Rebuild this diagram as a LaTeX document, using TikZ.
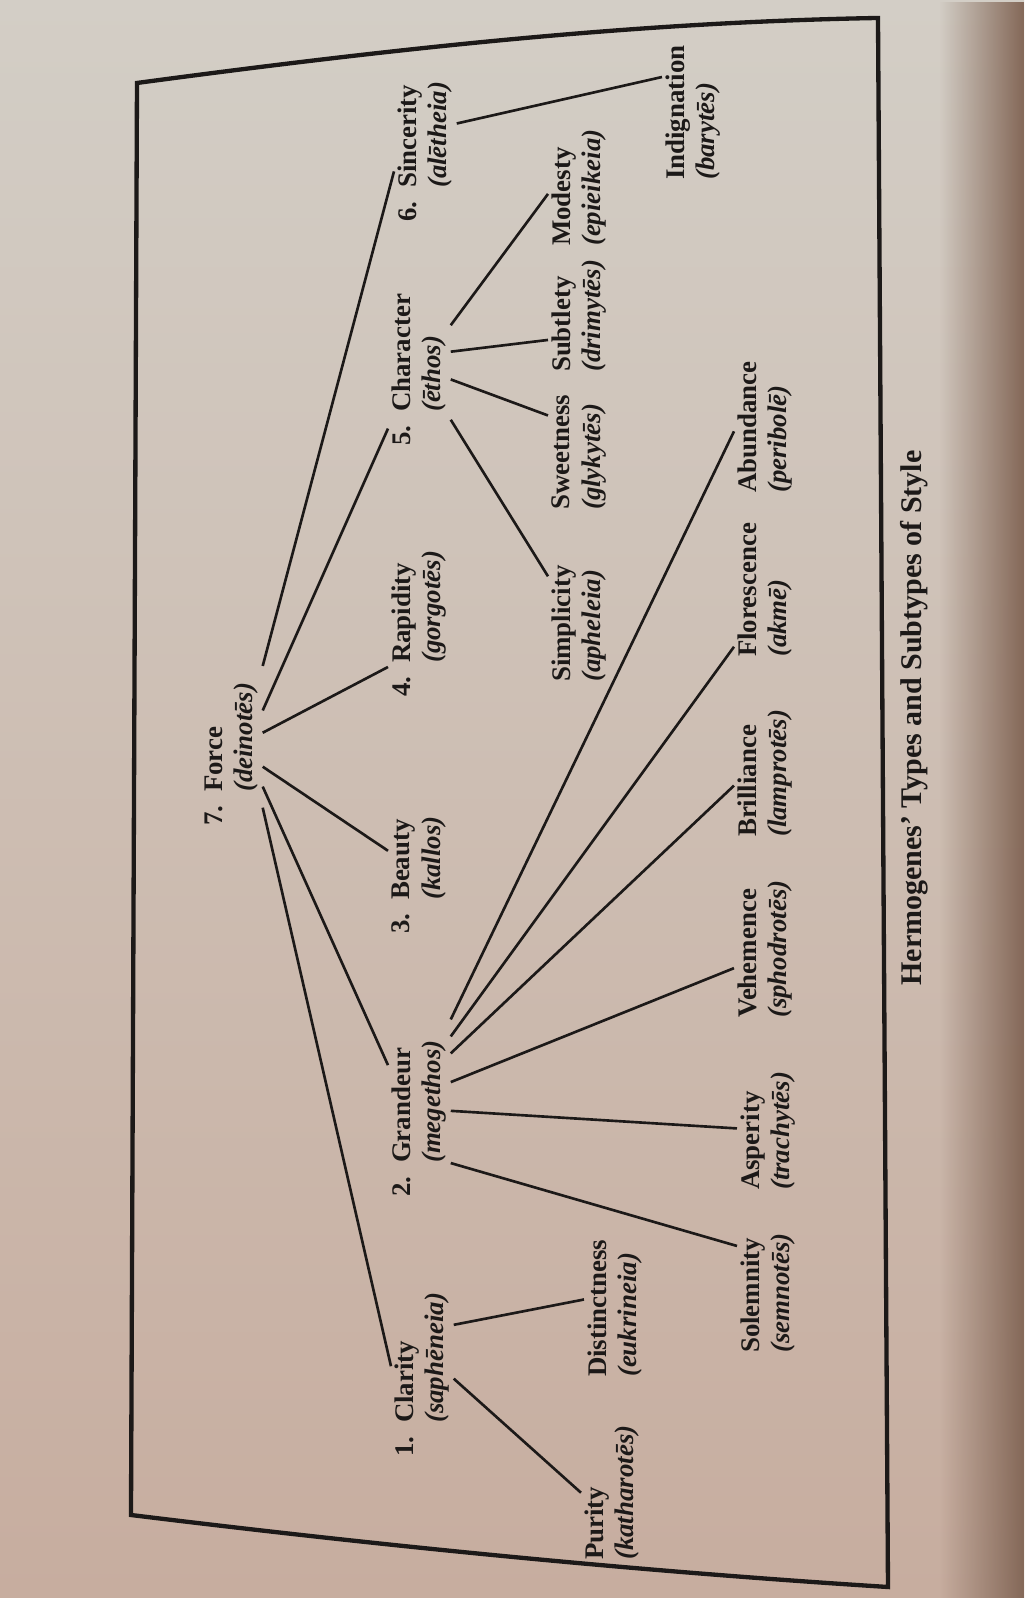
\documentclass[tikz,border=0pt]{standalone}
\usepackage{fontspec}
\setmainfont{Liberation Serif}
\usetikzlibrary{calc,fadings}

\definecolor{paper}{RGB}{211,206,198}
\definecolor{paperlow}{RGB}{199,173,159}
\definecolor{pageshade}{RGB}{132,104,88}
\definecolor{ink}{RGB}{28,25,24}

\newcommand{\greek}[1]{\textit{(#1)}}
\newcommand{\typeno}[1]{\llap{#1.\enspace}}

\tikzset{
  kind/.style={anchor=north west, align=left, inner sep=1.5pt, text=ink,
    font=\fontsize{11.2}{12.6}\selectfont\bfseries},
  link/.style={draw=ink, line width=1.1pt},
}

\begin{document}
\begin{tikzpicture}[x=0.4167pt, y=0.4167pt]
  \useasboundingbox (-1024,0) rectangle (0,1598);

  % Page
  \shade[top color=paper, bottom color=paperlow] (-1024,0) rectangle (0,1598);
  \fill[pageshade, path fading=west] (-85,0) rectangle (0,1598);

  \begin{scope}[rotate=90, transform shape]
    % Frame
    \draw[ink, line width=1.8pt] (1515,887) -- (83,893)
      .. controls (50,624) and (26,374) .. (11,136) -- (1580,146)
      .. controls (1576,374) and (1553,604) .. (1515,887) -- cycle;

    % Top
    \node[kind] (force) at (802,823) {\typeno{7}Force\\\greek{deinotēs}};

    % Types
    \node[kind] (clarity) at (171,633) {\typeno{1}Clarity\\\greek{saphēneia}};
    \node[kind] (grandeur) at (431,636) {\typeno{2}Grandeur\\\greek{megethos}};
    \node[kind] (beauty) at (694,636) {\typeno{3}Beauty\\\greek{kallos}};
    \node[kind] (rapidity) at (931,636) {\typeno{4}Rapidity\\\greek{gorgotēs}};
    \node[kind] (character) at (1182,636) {\typeno{5}Character\\\greek{ēthos}};
    \node[kind] (sincerity) at (1406,630) {\typeno{6}Sincerity\\\greek{alētheia}};

    % Subtypes
    \node[kind] (purity) at (34,443) {Purity\\\greek{katharotēs}};
    \node[kind] (distinctness) at (217,440) {Distinctness\\\greek{eukrineia}};
    \node[kind] (solemnity) at (241,287) {Solemnity\\\greek{semnotēs}};
    \node[kind] (asperity) at (404,287) {Asperity\\\greek{trachytēs}};
    \node[kind] (vehemence) at (576,290) {Vehemence\\\greek{sphodrotēs}};
    \node[kind] (brilliance) at (757,290) {Brilliance\\\greek{lamprotēs}};
    \node[kind] (florescence) at (937,290) {Florescence\\\greek{akmē}};
    \node[kind] (abundance) at (1101,290) {Abundance\\\greek{peribolē}};
    \node[kind] (simplicity) at (912,476) {Simplicity\\\greek{apheleia}};
    \node[kind] (sweetness) at (1084,476) {Sweetness\\\greek{glykytēs}};
    \node[kind] (subtlety) at (1222,476) {Subtlety\\\greek{drimytēs}};
    \node[kind] (modesty) at (1348,476) {Modesty\\\greek{epieikeia}};
    \node[kind] (indignation) at (1414,362) {Indignation\\\greek{barytēs}};

    % Caption
    \node[text=ink, font=\fontsize{12.5}{15}\selectfont\bfseries] (caption) at (880,110)
      {Hermogenes’ Types and Subtypes of Style};

    % Force to the types
    \draw[link] ($(force.south west)!-.1!(force.south east)$) -- ($(clarity.north west)!.44!(clarity.north east)$);
    \draw[link] ($(force.south west)!.08!(force.south east)$) -- ($(grandeur.north west)!.78!(grandeur.north east)$);
    \draw[link] ($(force.south west)!.25!(force.south east)$) -- ($(beauty.north west)!.58!(beauty.north east)$);
    \draw[link] ($(force.south west)!.54!(force.south east)$) -- (rapidity.north west);
    \draw[link] ($(force.south west)!.73!(force.south east)$) -- ($(character.north west)!-.1!(character.north east)$);
    \draw[link] ($(force.south west)!1.11!(force.south east)$) -- ($(sincerity.north west)!.18!(sincerity.north east)$);

    % Clarity
    \draw[link] ($(clarity.south west)!.35!(clarity.south east)$) -- ($(purity.north west)!.5!(purity.north east)$);
    \draw[link] ($(clarity.south west)!.74!(clarity.south east)$) -- ($(distinctness.north west)!.56!(distinctness.north east)$);

    % Grandeur
    \draw[link] ($(grandeur.south west)!.03!(grandeur.south east)$) -- ($(solemnity.north west)!.87!(solemnity.north east)$);
    \draw[link] ($(grandeur.south west)!.43!(grandeur.south east)$) -- ($(asperity.north west)!.52!(asperity.north east)$);
    \draw[link] ($(grandeur.south west)!.65!(grandeur.south east)$) -- ($(vehemence.north west)!.37!(vehemence.north east)$);
    \draw[link] ($(grandeur.south west)!.87!(grandeur.south east)$) -- ($(brilliance.north west)!.41!(brilliance.north east)$);
    \draw[link] (grandeur.south east) -- ($(florescence.north west)!.1!(florescence.north east)$);
    \draw[link] ($(grandeur.south west)!1.13!(grandeur.south east)$) -- ($(abundance.north west)!.47!(abundance.north east)$);

    % Character
    \draw[link] ($(character.south west)!-.03!(character.south east)$) -- ($(simplicity.north west)!.88!(simplicity.north east)$);
    \draw[link] ($(character.south west)!.29!(character.south east)$) -- ($(sweetness.north west)!.8!(sweetness.north east)$);
    \draw[link] ($(character.south west)!.51!(character.south east)$) -- ($(subtlety.north west)!.3!(subtlety.north east)$);
    \draw[link] ($(character.south west)!.72!(character.south east)$) -- ($(modesty.north west)!.45!(modesty.north east)$);

    % Sincerity
    \draw[link] ($(sincerity.south west)!.6!(sincerity.south east)$) -- ($(indignation.north west)!.75!(indignation.north east)$);
  \end{scope}
\end{tikzpicture}
\end{document}
